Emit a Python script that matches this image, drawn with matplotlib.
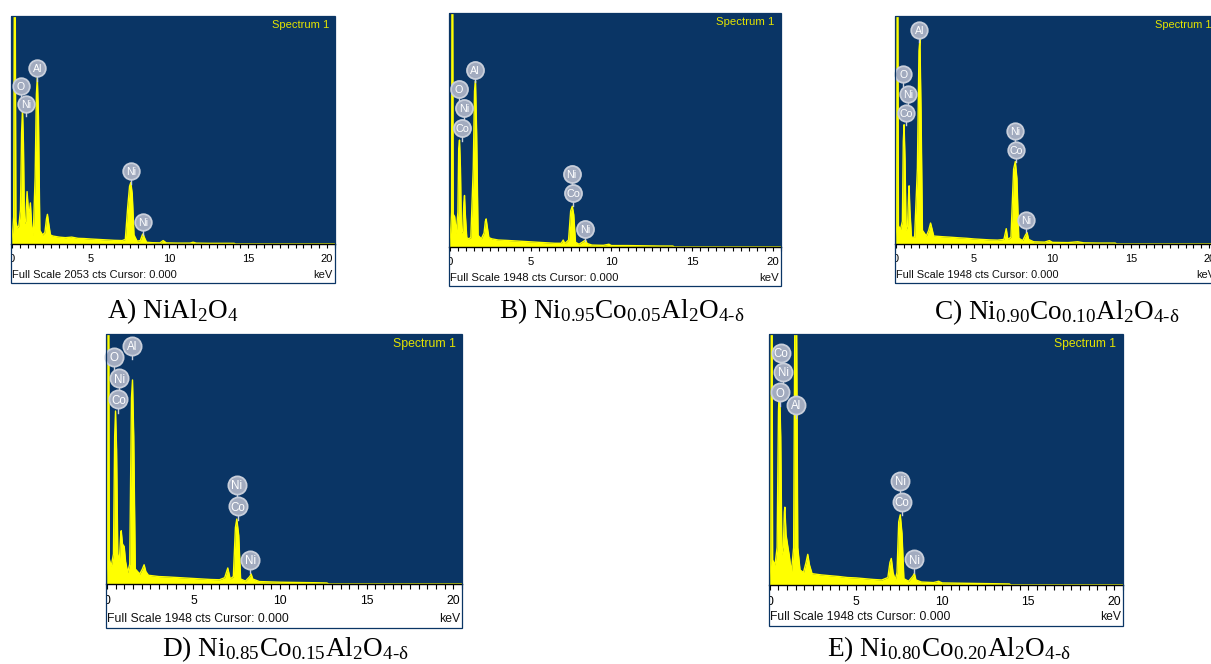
import matplotlib
matplotlib.use("Agg")
import matplotlib.pyplot as plt
from matplotlib.ticker import MultipleLocator
from matplotlib.patches import Rectangle
from matplotlib.transforms import Bbox, TransformedBbox

W, H = 1211, 664
NAVY = '#0a3565'
YELLOW = '#ffff00'
TAG_FACE = '#a2abbf'
TAG_EDGE = '#c9cfdb'

plt.rcParams['font.family'] = ['Liberation Sans', 'DejaVu Sans']
plt.rcParams['mathtext.fontset'] = 'custom'
plt.rcParams['mathtext.rm'] = 'Liberation Serif'
plt.rcParams['mathtext.it'] = 'Liberation Serif:italic'

# ---- spectra (keV, counts) ----
kev_a = [0.00, 0.06, 0.12, 0.17, 0.21, 0.26, 0.34, 0.45, 0.55, 0.62, 0.68, 0.74, 0.80, 0.88, 0.97,
         1.05, 1.12, 1.18, 1.26, 1.36, 1.48, 1.56, 1.62, 1.69, 1.78, 1.95, 2.10, 2.20, 2.26, 2.32,
         2.45, 2.6, 3.0, 3.4, 3.8, 4.2, 4.6, 5.0, 5.5, 6.0, 6.5, 7.0, 7.2, 7.35, 7.47, 7.55, 7.64,
         7.75, 7.95, 8.15, 8.28, 8.33, 8.40, 8.55, 8.9, 9.4, 9.6, 9.8, 10.5, 11.3, 11.5, 11.7,
         12.5, 13.5, 14.1, 14.2, 20.5]
cts_a = [0, 123, 246, 2700, 2700, 205, 144, 164, 308, 1000, 1211, 900, 185, 205, 472,
         308, 287, 370, 164, 82, 600, 1350, 1499, 1150, 123, 82, 103, 226, 267, 205,
         82, 72, 62, 57, 62, 51, 49, 45, 41, 37, 33, 31, 41, 330, 520, 554, 450,
         82, 25, 31, 82, 92, 62, 16, 12, 10, 31, 10, 8, 8, 16, 8,
         6, 6, 6, 0, 0]

kev_b = [0.00, 0.06, 0.11, 0.14, 0.17, 0.21, 0.30, 0.40, 0.50, 0.55, 0.60, 0.66, 0.72, 0.80, 0.87,
         0.91, 0.96, 1.05, 1.15, 1.30, 1.45, 1.53, 1.59, 1.66, 1.75, 1.95, 2.12, 2.20, 2.25, 2.31,
         2.42, 2.6, 3.0, 3.5, 4.0, 4.5, 5.0, 5.5, 6.0, 6.5, 6.9, 7.02, 7.12, 7.35, 7.48, 7.58,
         7.67, 7.78, 8.0, 8.3, 8.4, 8.5, 8.8, 9.5, 9.85, 10.0, 11.0, 12.0, 13.0, 13.8, 13.9, 20.5]
cts_b = [0, 156, 292, 2600, 2600, 273, 253, 117, 292, 820, 890, 650, 117, 136, 370,
         429, 273, 78, 68, 78, 650, 1300, 1383, 950, 97, 68, 117, 214, 234, 175,
         78, 68, 58, 55, 51, 47, 43, 39, 35, 31, 31, 58, 29, 58, 300, 339,
         270, 39, 23, 49, 58, 29, 16, 14, 23, 12, 12, 10, 8, 8, 0, 0]

kev_c = [0.00, 0.05, 0.09, 0.12, 0.17, 0.30, 0.42, 0.48, 0.53, 0.59, 0.66, 0.75, 0.82, 0.85, 0.90,
         1.00, 1.20, 1.38, 1.48, 1.54, 1.61, 1.70, 1.95, 2.10, 2.22, 2.30, 2.42, 3.0, 3.5, 4.0,
         4.5, 5.0, 5.5, 6.0, 6.5, 6.9, 7.05, 7.15, 7.35, 7.52, 7.63, 7.73, 7.85, 8.1, 8.28, 8.38,
         8.48, 8.8, 9.5, 9.8, 10.0, 11.0, 11.6, 12.0, 13.0, 14.0, 14.1, 20.5]
cts_c = [0, 156, 2600, 2600, 156, 123, 195, 880, 1019, 720, 117, 156, 429, 497, 292,
         58, 58, 650, 1650, 1749, 1150, 117, 68, 117, 179, 136, 68, 62, 58, 53,
         49, 43, 39, 35, 33, 39, 131, 39, 58, 640, 705, 560, 49, 29, 78, 97,
         39, 19, 16, 29, 14, 12, 19, 10, 8, 8, 0, 0]

kev_d = [0.00, 0.04, 0.07, 0.10, 0.14, 0.25, 0.38, 0.45, 0.50, 0.56, 0.63, 0.72, 0.80, 0.83, 0.90,
         1.00, 1.08, 1.20, 1.32, 1.42, 1.48, 1.55, 1.64, 1.90, 2.05, 2.15, 2.25, 2.40, 3.0, 3.5,
         4.0, 4.5, 5.0, 5.5, 6.0, 6.5, 6.8, 6.98, 7.12, 7.30, 7.42, 7.50, 7.61, 7.72, 8.0, 8.25,
         8.33, 8.42, 8.8, 9.5, 10.0, 11.0, 12.0, 12.7, 12.8, 20.5]
cts_d = [0, 195, 2600, 2600, 195, 136, 234, 1150, 1348, 1050, 234, 175, 390, 415, 312,
         292, 175, 88, 156, 1450, 1590, 1150, 117, 78, 117, 150, 97, 68, 58, 55,
         51, 47, 43, 39, 35, 33, 49, 125, 39, 58, 440, 506, 380, 39, 23, 58,
         78, 39, 19, 16, 14, 12, 10, 8, 0, 0]

kev_e = [0.00, 0.05, 0.09, 0.12, 0.16, 0.30, 0.42, 0.50, 0.56, 0.63, 0.70, 0.78, 0.84, 0.87, 0.94,
         1.05, 1.12, 1.25, 1.38, 1.47, 1.53, 1.62, 1.75, 1.95, 2.10, 2.20, 2.30, 2.45, 3.0, 3.5,
         4.0, 4.5, 5.0, 5.5, 6.0, 6.5, 6.85, 6.97, 7.05, 7.15, 7.28, 7.38, 7.48, 7.57, 7.67, 7.78,
         8.05, 8.30, 8.39, 8.48, 8.8, 9.5, 9.8, 10.0, 11.0, 12.0, 13.0, 13.9, 14.0, 20.5]
cts_e = [0, 195, 2600, 2600, 195, 156, 292, 1350, 1558, 1150, 234, 292, 565, 604, 390,
         292, 234, 97, 292, 2600, 2600, 292, 117, 97, 175, 238, 156, 88, 78, 72,
         66, 58, 55, 49, 43, 39, 58, 175, 206, 97, 39, 97, 490, 545, 400, 49,
         29, 68, 90, 39, 23, 19, 29, 16, 14, 12, 10, 8, 0, 0]

# ---- peak tags (element, keV, counts at tag centre) ----
tags_a = ['O', 'Ni', 'Al', 'Ni', 'Ni']
tag_kev_a = [0.57, 0.93, 1.63, 7.55, 8.33]
tag_cts_a = [1427, 1263, 1581, 653, 195]

tags_b = ['O', 'Ni', 'Co', 'Al', 'Ni', 'Co', 'Ni']
tag_kev_b = [0.56, 0.87, 0.76, 1.53, 7.54, 7.64, 8.37]
tag_cts_b = [1313, 1155, 988, 1475, 606, 446, 154]

tags_c = ['O', 'Ni', 'Co', 'Al', 'Ni', 'Co', 'Ni']
tag_kev_c = [0.47, 0.79, 0.68, 1.50, 7.59, 7.67, 8.33]
tag_cts_c = [1453, 1282, 1118, 1829, 966, 805, 203]

tags_d = ['O', 'Al', 'Ni', 'Co', 'Ni', 'Co', 'Ni']
tag_kev_d = [0.44, 1.44, 0.71, 0.67, 7.50, 7.56, 8.27]
tag_cts_d = [1771, 1855, 1603, 1440, 773, 604, 189]

tags_e = ['Co', 'Ni', 'O', 'Al', 'Ni', 'Co', 'Ni']
tag_kev_e = [0.64, 0.78, 0.58, 1.50, 7.57, 7.67, 8.39]
tag_cts_e = [1804, 1656, 1496, 1397, 810, 647, 199]

full_scale = [2053, 1948, 1948, 1948, 1948]
captions = [
    r'A) NiAl$_2$O$_4$',
    r'B) Ni$_{0.95}$Co$_{0.05}$Al$_2$O$_{4\text{-}\mathrm{δ}}$',
    r'C) Ni$_{0.90}$Co$_{0.10}$Al$_2$O$_{4\text{-}\mathrm{δ}}$',
    r'D) Ni$_{0.85}$Co$_{0.15}$Al$_2$O$_{4\text{-}\mathrm{δ}}$',
    r'E) Ni$_{0.80}$Co$_{0.20}$Al$_2$O$_{4\text{-}\mathrm{δ}}$',
]

# panel frames in pixels: left, right, top, axis line, bottom
boxes = [
    (11, 335, 16, 244, 283),
    (449, 781, 13, 247, 286),
    (895, 1217, 16, 244, 283),
    (106, 462, 334, 584, 628),
    (769, 1123, 334, 585, 626),
]
caption_pos = [(173, 318), (622, 318), (1057, 319), (285, 656), (949, 656)]

fig = plt.figure(figsize=(W / 100, H / 100), dpi=100)
fig.patch.set_facecolor('white')


def fx(x):
    return x / W


def fy(y):
    return 1 - y / H


def draw_panel(box, kev, cts, tags, tag_kev, tag_cts, fs_cts, caption, cap_xy):
    left, right, top, axis_y, bottom = box
    scale = (right - left) / 324
    font = 8 * scale
    ax = fig.add_axes([fx(left), fy(axis_y), (right - left) / W, (axis_y - top) / H])
    ax.set_facecolor(NAVY)
    ax.fill_between(kev, cts, 0, color=YELLOW, lw=0)
    ax.plot(kev, cts, color=YELLOW, lw=1.0)
    ax.set_xlim(-0.05, 20.5)
    ax.set_ylim(0, fs_cts)
    ax.set_yticks([])
    for side in ('top', 'left', 'right'):
        ax.spines[side].set_visible(False)
    ax.spines['bottom'].set_color('black')
    ax.spines['bottom'].set_linewidth(1.0)
    ax.set_xticks([0, 5, 10, 15, 20])
    ax.xaxis.set_minor_locator(MultipleLocator(0.5))
    ax.tick_params(axis='x', which='both', direction='out', length=3 * scale,
                   width=0.8, color='black', labelsize=font, pad=4 * scale)

    # keep tick labels inside the panel frame
    frame = TransformedBbox(Bbox([[fx(left), fy(bottom)], [fx(right), fy(top)]]),
                            fig.transFigure)
    for tick in ax.xaxis.get_major_ticks():
        tick.label1.set_clip_box(frame)
        tick.label1.set_clip_on(True)

    # element tags: pointer first, then the disc and its symbol
    cts_per_px = fs_cts / (axis_y - top)
    radius = 8.3 * scale
    for name, x, y in zip(tags, tag_kev, tag_cts):
        ax.plot([x, x], [y, y - (radius + 4 * scale) * cts_per_px],
                color=TAG_EDGE, lw=1.0, zorder=4, clip_on=False)
    ax.scatter(tag_kev, tag_cts, s=(2 * radius * 0.72) ** 2, c=TAG_FACE,
               edgecolors=TAG_EDGE, linewidths=1.3, zorder=5, clip_on=False)
    for name, x, y in zip(tags, tag_kev, tag_cts):
        ax.text(x, y, name, color='white', fontsize=7.6 * scale, ha='center',
                va='center_baseline', zorder=6)

    fig.text(fx(right - 6 * scale), fy(top + 9 * scale), 'Spectrum 1', color='#e4e400',
             fontsize=font, ha='right', va='center')
    fig.text(fx(left + 1), fy(bottom - 8 * scale), f'Full Scale {fs_cts} cts Cursor: 0.000',
             fontsize=font, ha='left', va='center', color='#111111')
    fig.text(fx(right - 2), fy(bottom - 8 * scale), 'keV', fontsize=font,
             ha='right', va='center', color='#111111')
    fig.add_artist(Rectangle((fx(left), fy(bottom)), (right - left) / W, (bottom - top) / H,
                             transform=fig.transFigure, fill=False, ec=NAVY, lw=0.9))

    fig.text(fx(cap_xy[0]), fy(cap_xy[1]), caption, family='Liberation Serif',
             fontsize=19.6, ha='center', va='baseline')


spectra = [(kev_a, cts_a), (kev_b, cts_b), (kev_c, cts_c), (kev_d, cts_d), (kev_e, cts_e)]
tag_sets = [(tags_a, tag_kev_a, tag_cts_a), (tags_b, tag_kev_b, tag_cts_b),
            (tags_c, tag_kev_c, tag_cts_c), (tags_d, tag_kev_d, tag_cts_d),
            (tags_e, tag_kev_e, tag_cts_e)]

for i in range(5):
    draw_panel(boxes[i], *spectra[i], *tag_sets[i], full_scale[i], captions[i], caption_pos[i])

fig.savefig('out.png', dpi=100, facecolor='white')
